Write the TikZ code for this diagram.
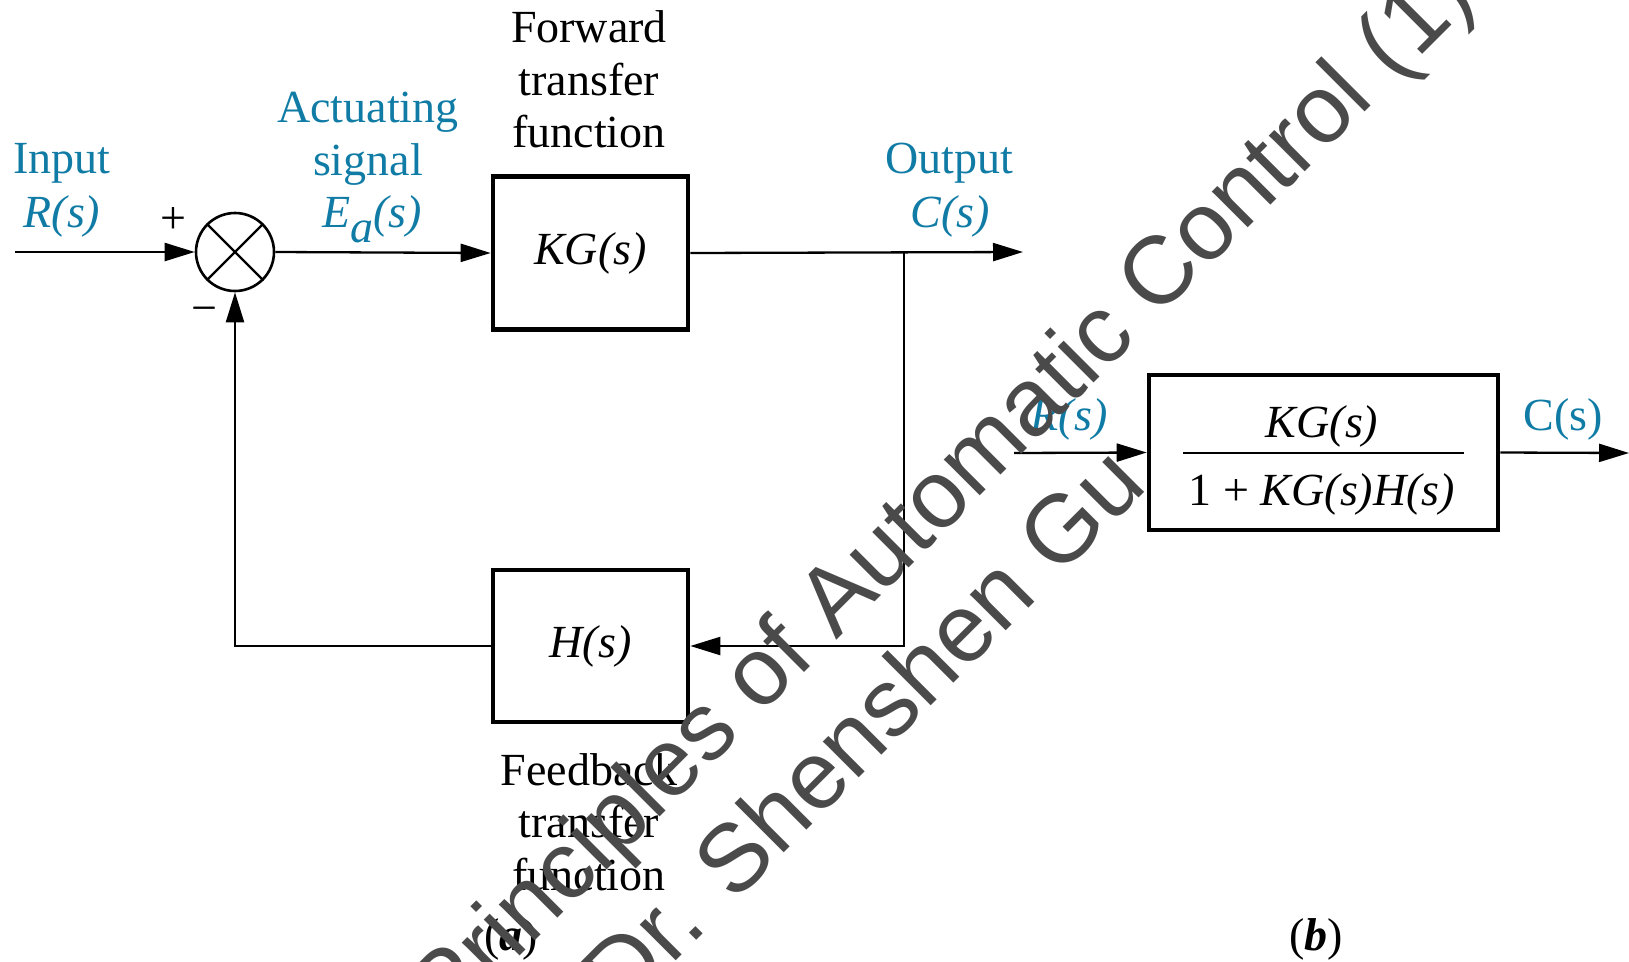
\documentclass[tikz,border=0pt]{standalone}
\usepackage{fontspec}
\setmainfont{Liberation Serif}
\newfontfamily\wmfont{Liberation Sans}
\usetikzlibrary{arrows.meta}
\definecolor{sigblue}{RGB}{16,124,166}
\definecolor{wmgray}{RGB}{74,74,74}
\begin{document}
\begin{tikzpicture}[x=1pt,y=-1pt,
  every node/.style={font=\fontsize{46}{53}\selectfont, inner sep=0pt},
  blk/.style={draw, line width=4.6pt, minimum width=195pt, minimum height=153pt},
  lbl/.style={anchor=base},
  sig/.style={anchor=base, text=sigblue},
  wire/.style={line width=2.3pt},
  arr/.style={wire, -{Triangle[length=30pt,width=18pt]}},
  wm/.style={anchor=base west, text=wmgray, font=\wmfont\fontsize{96}{96}\selectfont, rotate=45}]
\useasboundingbox (0,0) rectangle (1629,961);

% ---------- (a) closed loop ----------
\node[circle, draw, line width=2.6pt, minimum size=78pt] (sum) at (235,252) {};
\draw[line width=2.4pt] (sum.north east) -- (sum.south west)
                        (sum.north west) -- (sum.south east);
\node[blk] (kg) at (590.5,253) {\textit{KG(s)}};
\node[blk, minimum height=152pt] (h) at (590.5,646) {\textit{H(s)}};

\coordinate (in)  at (15,252);
\coordinate (out) at (1023,252);
\coordinate (br)  at (904,252);
\coordinate (brd) at (904,646);
\coordinate (fbl) at (235,646);

\draw[arr] (in) -- (sum.west);
\draw[arr] (sum.east) -- (kg.west);
\draw[arr] (kg.east) -- (out);
\draw[arr] (br) -- (brd) -- (h.east);
\draw[arr] (h.west) -- (fbl) -- (sum.south);

\node (plus)  at (173,221) {+};
\node (minus) at (204,315) {\char"2212};

\node[sig] (inA) at (62,173) {Input};
\node[sig] (inB) at (62,227) {\textit{R(s)}};
\node[sig] (acA) at (368,122) {Actuating};
\node[sig] (acB) at (368,175) {signal};
\node[sig] (acC) at (372,227) {\textit{E\raisebox{-15pt}{a}(s)}};
\node[lbl] (fwA) at (589,42) {Forward};
\node[lbl] (fwB) at (589,95) {transfer};
\node[lbl] (fwC) at (589,147) {function};
\node[sig] (ouA) at (949,173) {Output};
\node[sig] (ouB) at (950,227) {\textit{C(s)}};
\node[lbl] (fbA) at (589,785) {Feedback};
\node[lbl] (fbB) at (589,837) {transfer};
\node[lbl] (fbC) at (589,890) {function};
\node[lbl] (capa) at (511,950) {(\textbf{\textit{a}})};

% ---------- (b) equivalent block ----------
\node[blk, minimum width=349pt, minimum height=155pt] (eq) at (1323.5,452.5) {};
\coordinate (bin)  at (1014,453);
\coordinate (bout) at (1629,453);
\draw[arr] (bin) -- (eq.west);
\draw[arr] (eq.east) -- (bout);
\coordinate (fl) at (1183,453);
\coordinate (fr) at (1464,453);
\draw[wire] (fl) -- (fr);
\node[lbl] (num) at (1322,437) {\textit{KG(s)}};
\node[lbl] (den) at (1322,505) {1 + \textit{KG(s)H(s)}};
\node[sig] (bR) at (1069,430) {\textit{R(s)}};
\node[sig] (bC) at (1563,430) {C(s)};
\node[lbl] (capb) at (1316,950) {(\textbf{\textit{b}})};

% ---------- overlay text ----------
\node[wm] (wmA) at (447.6,1029) {Principles of Automatic Control (1)};
\node[wm] (wmB) at (622,1015) {Dr. Shenshen Gu};
\end{tikzpicture}
\end{document}
